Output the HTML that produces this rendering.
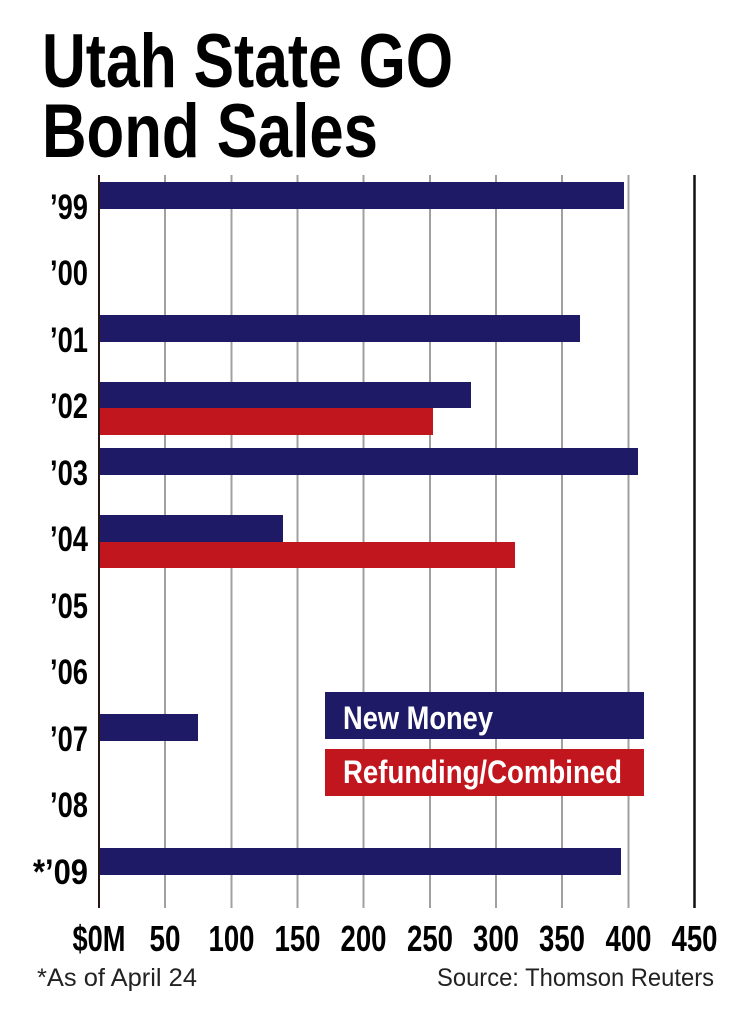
<!DOCTYPE html>
<html><head><meta charset="utf-8"><style>
html,body{margin:0;padding:0;background:#fff;}
svg{display:block;}
text{font-family:"Liberation Sans",sans-serif;}
</style></head><body>
<svg width="740" height="1011" viewBox="0 0 740 1011" xmlns="http://www.w3.org/2000/svg">
<rect width="740" height="1011" fill="#fff"/>
<text x="42" y="87" font-size="76" font-weight="bold" textLength="411" lengthAdjust="spacingAndGlyphs">Utah State GO</text>
<text x="42" y="157" font-size="76" font-weight="bold" textLength="336" lengthAdjust="spacingAndGlyphs">Bond Sales</text>
<g stroke="#a0a0a0" stroke-width="2">
<line x1="165" y1="175" x2="165" y2="908"/>
<line x1="231.5" y1="175" x2="231.5" y2="908"/>
<line x1="297.5" y1="175" x2="297.5" y2="908"/>
<line x1="363.5" y1="175" x2="363.5" y2="908"/>
<line x1="430" y1="175" x2="430" y2="908"/>
<line x1="496" y1="175" x2="496" y2="908"/>
<line x1="562" y1="175" x2="562" y2="908"/>
<line x1="628.5" y1="175" x2="628.5" y2="908"/>
</g>
<line x1="694.5" y1="175" x2="694.5" y2="908" stroke="#111" stroke-width="2.5"/>
<g fill="#1e1a66">
<rect x="99" y="182" width="525" height="27"/>
<rect x="99" y="315" width="481" height="27"/>
<rect x="99" y="382" width="372" height="26"/>
<rect x="99" y="448" width="539" height="27"/>
<rect x="99" y="515" width="184" height="27"/>
<rect x="99" y="714" width="99" height="27"/>
<rect x="99" y="848" width="522" height="27"/>
<rect x="325" y="692" width="319" height="47"/>
</g>
<g fill="#c1161e">
<rect x="99" y="408" width="334" height="27"/>
<rect x="99" y="542" width="416" height="26"/>
<rect x="325" y="749" width="319" height="47"/>
</g>
<line x1="99" y1="175" x2="99" y2="908" stroke="#2a1414" stroke-width="2"/>
<g font-size="35" font-weight="bold" text-anchor="end">
<text x="88" y="219" textLength="38" lengthAdjust="spacingAndGlyphs">’99</text>
<text x="88" y="285" textLength="38" lengthAdjust="spacingAndGlyphs">’00</text>
<text x="88" y="352" textLength="38" lengthAdjust="spacingAndGlyphs">’01</text>
<text x="88" y="418" textLength="38" lengthAdjust="spacingAndGlyphs">’02</text>
<text x="88" y="485" textLength="38" lengthAdjust="spacingAndGlyphs">’03</text>
<text x="88" y="551" textLength="38" lengthAdjust="spacingAndGlyphs">’04</text>
<text x="88" y="618" textLength="38" lengthAdjust="spacingAndGlyphs">’05</text>
<text x="88" y="684" textLength="38" lengthAdjust="spacingAndGlyphs">’06</text>
<text x="88" y="751" textLength="38" lengthAdjust="spacingAndGlyphs">’07</text>
<text x="88" y="817" textLength="38" lengthAdjust="spacingAndGlyphs">’08</text>
<text x="88" y="884" textLength="55" lengthAdjust="spacingAndGlyphs">*’09</text>
</g>
<g font-size="36" font-weight="bold" text-anchor="middle">
<text x="99" y="951" textLength="53" lengthAdjust="spacingAndGlyphs">$0M</text>
<text x="165" y="951" textLength="31" lengthAdjust="spacingAndGlyphs">50</text>
<text x="231.5" y="951" textLength="46" lengthAdjust="spacingAndGlyphs">100</text>
<text x="297.5" y="951" textLength="46" lengthAdjust="spacingAndGlyphs">150</text>
<text x="363.5" y="951" textLength="46" lengthAdjust="spacingAndGlyphs">200</text>
<text x="430" y="951" textLength="46" lengthAdjust="spacingAndGlyphs">250</text>
<text x="496" y="951" textLength="46" lengthAdjust="spacingAndGlyphs">300</text>
<text x="562" y="951" textLength="46" lengthAdjust="spacingAndGlyphs">350</text>
<text x="628.5" y="951" textLength="46" lengthAdjust="spacingAndGlyphs">400</text>
<text x="694.5" y="951" textLength="46" lengthAdjust="spacingAndGlyphs">450</text>
</g>
<g font-size="32" font-weight="bold" fill="#fff">
<text x="343" y="729" textLength="150" lengthAdjust="spacingAndGlyphs">New Money</text>
<text x="343" y="783" textLength="279" lengthAdjust="spacingAndGlyphs">Refunding/Combined</text>
</g>
<g font-size="25" fill="#222">
<text x="37" y="986" textLength="160" lengthAdjust="spacingAndGlyphs">*As of April 24</text>
<text x="437" y="986" textLength="277" lengthAdjust="spacingAndGlyphs">Source: Thomson Reuters</text>
</g>
</svg>
</body></html>
